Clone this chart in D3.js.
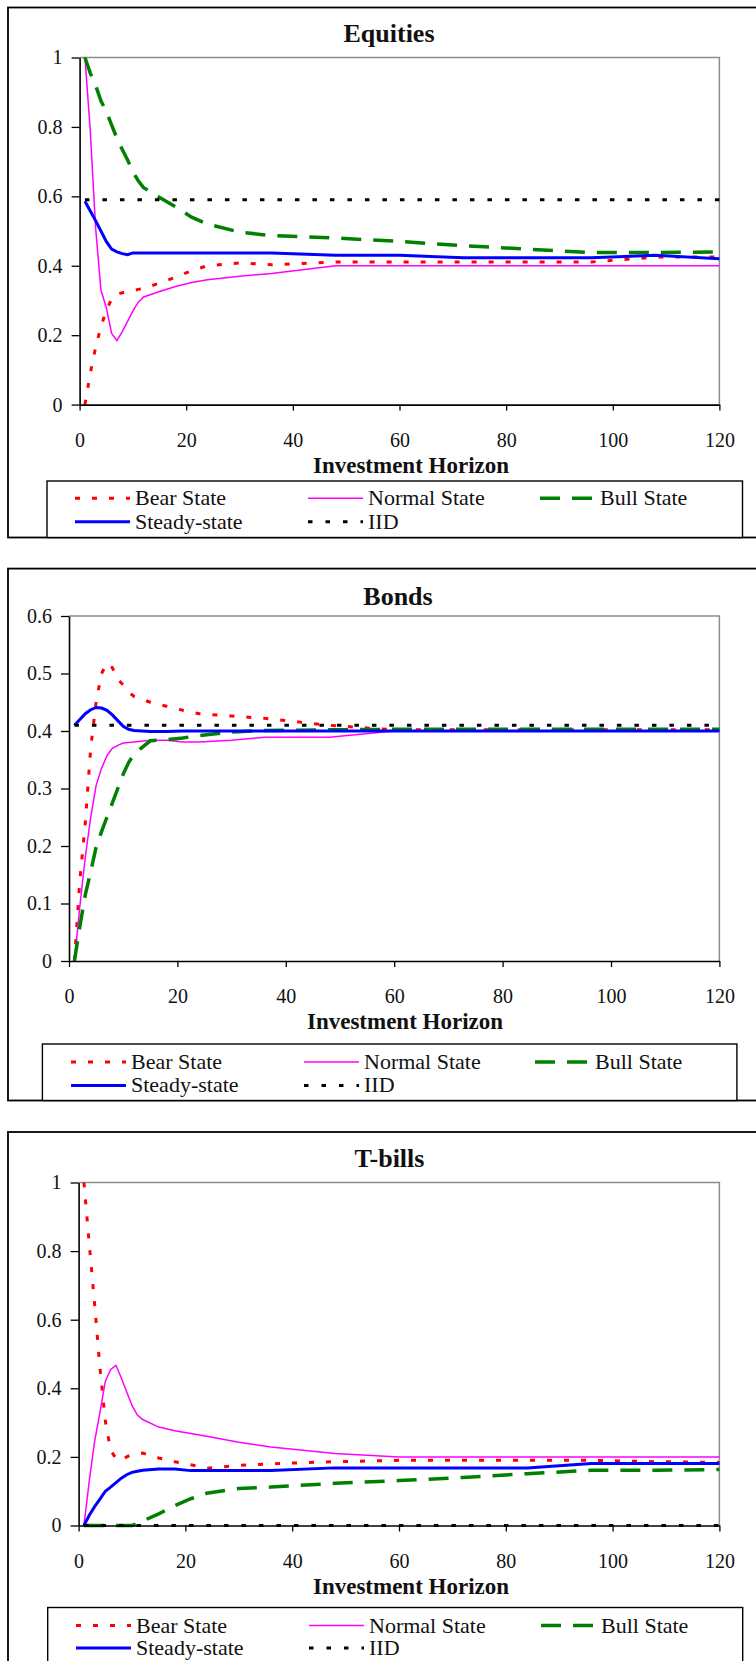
<!DOCTYPE html>
<html>
<head>
<meta charset="utf-8">
<script src="https://cdn.jsdelivr.net/npm/d3@7"></script>
<style>
body { margin: 0; background: #fff; }
svg { display: block; }
text { font-family: "Liberation Serif", "Times New Roman", serif; fill: #111; }
</style>
</head>
<body>
<div id="chart"></div>
<script>
// investment horizon (months) at which the allocations are read
var horizon = [1, 2, 3, 4, 5, 6, 7, 8, 9, 10, 11, 12, 15, 18, 21, 24, 30, 36, 48, 60, 72, 84, 96, 108, 120];

var seriesNames = ["Bear State", "Normal State", "Bull State", "Steady-state", "IID"];
var xTicks = [0, 20, 40, 60, 80, 100, 120];
var equitiesYTicks = [0, 0.2, 0.4, 0.6, 0.8, 1];
var bondsYTicks = [0, 0.1, 0.2, 0.3, 0.4, 0.5, 0.6];
var tbillsYTicks = [0, 0.2, 0.4, 0.6, 0.8, 1];

var equitiesBear   = [0.000, 0.090, 0.165, 0.225, 0.270, 0.305, 0.318, 0.322, 0.325, 0.328, 0.332, 0.335, 0.350, 0.367, 0.386, 0.400, 0.408, 0.403, 0.411, 0.411, 0.411, 0.411, 0.411, 0.425, 0.425];
var equitiesNormal = [1.000, 0.790, 0.510, 0.330, 0.280, 0.205, 0.184, 0.210, 0.240, 0.270, 0.295, 0.310, 0.326, 0.340, 0.352, 0.360, 0.370, 0.378, 0.400, 0.400, 0.400, 0.400, 0.400, 0.400, 0.400];
var equitiesBull   = [1.000, 0.955, 0.920, 0.875, 0.845, 0.806, 0.767, 0.735, 0.705, 0.670, 0.645, 0.625, 0.597, 0.570, 0.540, 0.520, 0.497, 0.487, 0.480, 0.470, 0.458, 0.448, 0.438, 0.438, 0.440];
var equitiesSteady = [0.586, 0.558, 0.530, 0.500, 0.470, 0.448, 0.440, 0.435, 0.432, 0.437, 0.437, 0.437, 0.437, 0.437, 0.437, 0.437, 0.437, 0.437, 0.430, 0.430, 0.423, 0.423, 0.423, 0.430, 0.420];
var equitiesIID    = [0.59, 0.59, 0.59, 0.59, 0.59, 0.59, 0.59, 0.59, 0.59, 0.59, 0.59, 0.59, 0.59, 0.59, 0.59, 0.59, 0.59, 0.59, 0.59, 0.59, 0.59, 0.59, 0.59, 0.59, 0.59];

var bondsBear   = [0.000, 0.140, 0.240, 0.370, 0.450, 0.500, 0.518, 0.510, 0.490, 0.480, 0.468, 0.460, 0.450, 0.443, 0.436, 0.430, 0.426, 0.422, 0.410, 0.402, 0.402, 0.402, 0.402, 0.402, 0.402];
var bondsNormal = [0.000, 0.095, 0.180, 0.250, 0.305, 0.335, 0.357, 0.370, 0.375, 0.379, 0.380, 0.381, 0.384, 0.384, 0.381, 0.381, 0.384, 0.389, 0.389, 0.400, 0.400, 0.400, 0.400, 0.400, 0.400];
var bondsBull   = [0.000, 0.060, 0.115, 0.155, 0.198, 0.225, 0.250, 0.275, 0.300, 0.325, 0.345, 0.360, 0.383, 0.385, 0.388, 0.392, 0.398, 0.401, 0.402, 0.403, 0.403, 0.403, 0.403, 0.403, 0.403];
var bondsSteady = [0.410, 0.420, 0.430, 0.437, 0.441, 0.440, 0.436, 0.428, 0.418, 0.408, 0.403, 0.401, 0.399, 0.399, 0.400, 0.400, 0.400, 0.400, 0.400, 0.400, 0.400, 0.400, 0.400, 0.400, 0.400];
var bondsIID    = [0.41, 0.41, 0.41, 0.41, 0.41, 0.41, 0.41, 0.41, 0.41, 0.41, 0.41, 0.41, 0.41, 0.41, 0.41, 0.41, 0.41, 0.41, 0.41, 0.41, 0.41, 0.41, 0.41, 0.41, 0.41];

var tbillsBear   = [1.000, 0.820, 0.645, 0.460, 0.305, 0.220, 0.195, 0.190, 0.200, 0.207, 0.210, 0.211, 0.197, 0.186, 0.177, 0.167, 0.175, 0.180, 0.186, 0.190, 0.190, 0.190, 0.190, 0.186, 0.184];
var tbillsNormal = [0.000, 0.130, 0.245, 0.330, 0.420, 0.455, 0.467, 0.430, 0.390, 0.350, 0.322, 0.309, 0.287, 0.276, 0.268, 0.260, 0.243, 0.229, 0.210, 0.200, 0.200, 0.200, 0.200, 0.200, 0.200];
var tbillsBull   = [0.000, 0.000, 0.000, 0.000, 0.000, 0.000, 0.000, 0.000, 0.000, 0.000, 0.006, 0.013, 0.034, 0.058, 0.078, 0.094, 0.108, 0.112, 0.123, 0.131, 0.140, 0.151, 0.161, 0.161, 0.163];
var tbillsSteady = [0.000, 0.030, 0.055, 0.077, 0.100, 0.112, 0.125, 0.138, 0.148, 0.155, 0.158, 0.161, 0.165, 0.165, 0.160, 0.160, 0.160, 0.160, 0.168, 0.168, 0.168, 0.168, 0.181, 0.181, 0.181];
var tbillsIID    = [0, 0, 0, 0, 0, 0, 0, 0, 0, 0, 0, 0, 0, 0, 0, 0, 0, 0, 0, 0, 0, 0, 0, 0, 0];

// line look per series, same order as seriesNames
var styles = [
    {color: "#ff0000", width: 3, dash: "5,12"},
    {color: "#ff00ff", width: 1.5, dash: null},
    {color: "#008000", width: 3.5, dash: "20,12"},
    {color: "#0000ff", width: 3, dash: null},
    {color: "#000000", width: 3, dash: "4.5,13"}
];

var svg = d3.select("#chart").append("svg")
    .attr("width", 756)
    .attr("height", 1661);
svg.append("rect").attr("width", 756).attr("height", 1661).attr("fill", "#fff");

function drawPanel(p) {
    var g = svg.append("g");

    // outer chart frame (runs off the right edge)
    g.append("rect")
        .attr("x", 8).attr("y", p.frameTop)
        .attr("width", 800).attr("height", p.frameBottom - p.frameTop)
        .attr("fill", "none").attr("stroke", "#000").attr("stroke-width", 1.8);

    var x = d3.scaleLinear().domain([0, 120]).range([p.left, p.right]);
    var y = d3.scaleLinear().domain([0, p.yTicks[p.yTicks.length - 1]]).range([p.bottom, p.top]);

    // grey top/right border of the plot area
    g.append("path")
        .attr("d", "M" + p.left + "," + p.top + "H" + p.right + "V" + p.bottom)
        .attr("fill", "none").attr("stroke", "#8c8c8c").attr("stroke-width", 1.5);

    var line = d3.line()
        .x(function(d) { return x(d[0]); })
        .y(function(d) { return y(d[1]); });

    p.series.forEach(function(values, i) {
        var st = styles[i];
        g.append("path")
            .datum(horizon.map(function(h, k) { return [h, values[k]]; }))
            .attr("d", line)
            .attr("fill", "none")
            .attr("stroke", st.color)
            .attr("stroke-width", st.width)
            .attr("stroke-dasharray", st.dash);
    });

    var yAxis = g.append("g")
        .attr("transform", "translate(" + p.left + ",0)")
        .call(d3.axisLeft(y).tickValues(p.yTicks).tickSize(8).tickSizeOuter(0).tickPadding(9)
            .tickFormat(function(d) { return String(d); }));
    var xAxis = g.append("g")
        .attr("transform", "translate(0," + p.bottom + ")")
        .call(d3.axisBottom(x).tickValues(xTicks).tickSize(6).tickSizeOuter(0).tickPadding(22)
            .tickFormat(function(d) { return String(d); }));
    [xAxis, yAxis].forEach(function(a) {
        a.attr("font-family", null);
        a.select(".domain").attr("stroke", "#000").attr("stroke-width", 1.6);
        a.selectAll(".tick line").attr("stroke", "#000").attr("stroke-width", 1.3);
        a.selectAll("text").attr("font-size", 20).attr("fill", "#1a1a1a");
    });

    g.append("text")
        .attr("x", p.titleX).attr("y", p.titleY + 9)
        .attr("text-anchor", "middle")
        .attr("font-size", 26).attr("font-weight", "bold")
        .text(p.title);

    g.append("text")
        .attr("x", p.axisTitleX).attr("y", p.bottom + 68)
        .attr("text-anchor", "middle")
        .attr("font-size", 23).attr("font-weight", "bold")
        .text("Investment Horizon");

    // legend
    g.append("rect")
        .attr("x", p.legX).attr("y", p.legY)
        .attr("width", p.legW).attr("height", p.legH)
        .attr("fill", "#fff").attr("stroke", "#000").attr("stroke-width", 1.4);

    var legendPos = [[0, 0], [1, 0], [2, 0], [0, 1], [1, 1]];
    seriesNames.forEach(function(name, i) {
        var st = styles[i];
        var sx = p.legCols[legendPos[i][0]];
        var sy = p.legRows[legendPos[i][1]];
        g.append("line")
            .attr("x1", sx).attr("x2", sx + 55)
            .attr("y1", sy).attr("y2", sy)
            .attr("stroke", st.color)
            .attr("stroke-width", st.width)
            .attr("stroke-dasharray", st.dash);
        g.append("text")
            .attr("x", sx + 60).attr("y", sy + 7)
            .attr("font-size", 22)
            .text(name);
    });
}

drawPanel({
    title: "Equities", series: [equitiesBear, equitiesNormal, equitiesBull, equitiesSteady, equitiesIID],
    yTicks: equitiesYTicks,
    frameTop: 7.5, frameBottom: 537.5,
    left: 79.6, right: 719.4, top: 57.5, bottom: 404.6,
    titleX: 389, titleY: 33, axisTitleX: 411,
    legX: 47, legY: 481, legW: 695.5, legH: 56.5,
    legCols: [75, 308, 540], legRows: [498.3, 521.7]
});

drawPanel({
    title: "Bonds", series: [bondsBear, bondsNormal, bondsBull, bondsSteady, bondsIID],
    yTicks: bondsYTicks,
    frameTop: 568.6, frameBottom: 1100.5,
    left: 69, right: 719.4, top: 616, bottom: 961,
    titleX: 398, titleY: 595.5, axisTitleX: 405,
    legX: 42.4, legY: 1044, legW: 694.5, legH: 56.5,
    legCols: [71, 304, 535], legRows: [1062, 1085.4]
});

drawPanel({
    title: "T-bills", series: [tbillsBear, tbillsNormal, tbillsBull, tbillsSteady, tbillsIID],
    yTicks: tbillsYTicks,
    frameTop: 1132, frameBottom: 1700,
    left: 78.6, right: 719.4, top: 1182.5, bottom: 1525.5,
    titleX: 389.5, titleY: 1158, axisTitleX: 411,
    legX: 47.7, legY: 1607.5, legW: 695, legH: 80,
    legCols: [76, 309, 541], legRows: [1625.5, 1648]
});
</script>
</body>
</html>
